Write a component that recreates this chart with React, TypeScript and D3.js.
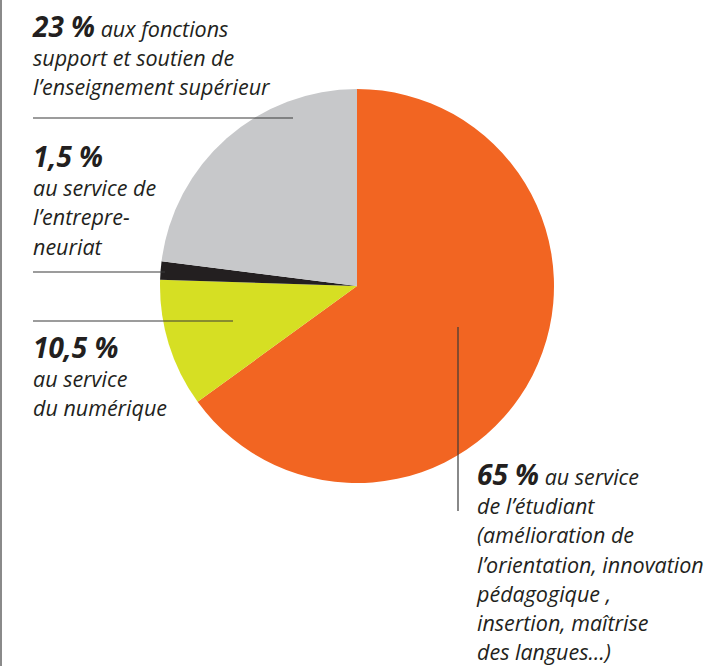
import React, { useRef, useEffect } from "react";
import * as d3 from "d3";

// slice data, clockwise from 12 o'clock
const labels = ["étudiant", "numérique", "entrepreneuriat", "fonctions support"];
const values = [65, 10.5, 1.5, 23];
const colors = ["#F26522", "#D6DF23", "#231F20", "#C7C8CA"];

// label blocks: bold figure + italic lines
const labelBlocks = [
  { pct: "23 %", first: " aux fonctions", lines: ["support et soutien de", "l\u2019enseignement supérieur"], x: 33, y: 37 },
  { pct: "1,5 %", first: "", lines: ["au service de", "l\u2019entrepre-", "neuriat"], x: 33, y: 167 },
  { pct: "10,5 %", first: "", lines: ["au service", "du numérique"], x: 33, y: 358 },
  { pct: "65 %", first: " au service", lines: ["de l\u2019étudiant", "(amélioration de", "l\u2019orientation, innovation", "pédagogique ,", "insertion, maîtrise", "des langues\u2026)"], x: 477, y: 485 },
];

function PieChart() {
  const svgRef = useRef<SVGSVGElement>(null);

  useEffect(() => {
    const svg = d3.select(svgRef.current);
    svg.selectAll("*").remove();

    const cx = 357;
    const cy = 286;
    const radius = 197;

    // left border
    svg.append("line")
      .attr("x1", 1).attr("x2", 1)
      .attr("y1", 0).attr("y2", 666)
      .style("stroke", "#8a8a8a")
      .style("stroke-width", 2);

    const pie = d3.pie<number>().sort(null).value((d) => d);
    const arc = d3.arc<d3.PieArcDatum<number>>().innerRadius(0).outerRadius(radius);

    svg.append("g")
      .attr("transform", `translate(${cx}, ${cy})`)
      .selectAll("path")
      .data(pie(values))
      .enter()
      .append("path")
      .attr("d", arc)
      .style("fill", (d, i) => colors[i]);

    // leader lines
    const leaders = [
      [33, 118, 293, 118],
      [33, 272, 165, 272],
      [33, 321, 233, 321],
      [458, 327, 458, 511],
    ];
    svg.selectAll(".leader")
      .data(leaders)
      .enter()
      .append("line")
      .attr("class", "leader")
      .attr("x1", (d) => d[0]).attr("y1", (d) => d[1])
      .attr("x2", (d) => d[2]).attr("y2", (d) => d[3])
      .style("stroke", "#3a3a3a")
      .style("stroke-width", 1.2);

    // text blocks
    const lineH = 29.2;
    labelBlocks.forEach((b) => {
      const t = svg.append("text")
        .attr("x", b.x)
        .attr("y", b.y)
        .style("font-family", "'Open Sans', sans-serif")
        .style("font-style", "italic")
        .style("fill", "#231F20");
      t.append("tspan")
        .text(b.pct)
        .style("font-weight", "bold")
        .style("font-size", "28px");
      if (b.first) {
        t.append("tspan").text(b.first).style("font-size", "21.5px");
      }
      b.lines.forEach((l, i) => {
        svg.append("text")
          .attr("x", b.x)
          .attr("y", b.y + lineH * (i + 1))
          .style("font-family", "'Open Sans', sans-serif")
          .style("font-style", "italic")
          .style("font-size", "21.5px")
          .style("fill", "#231F20")
          .text(l);
      });
    });
  }, []);

  return <svg ref={svgRef} width={712} height={666} style={{ display: "block" }} />;
}

export default function App() {
  return (
    <div style={{ position: "absolute", left: 0, top: 0, background: "#fff" }}>
      <PieChart />
    </div>
  );
}
